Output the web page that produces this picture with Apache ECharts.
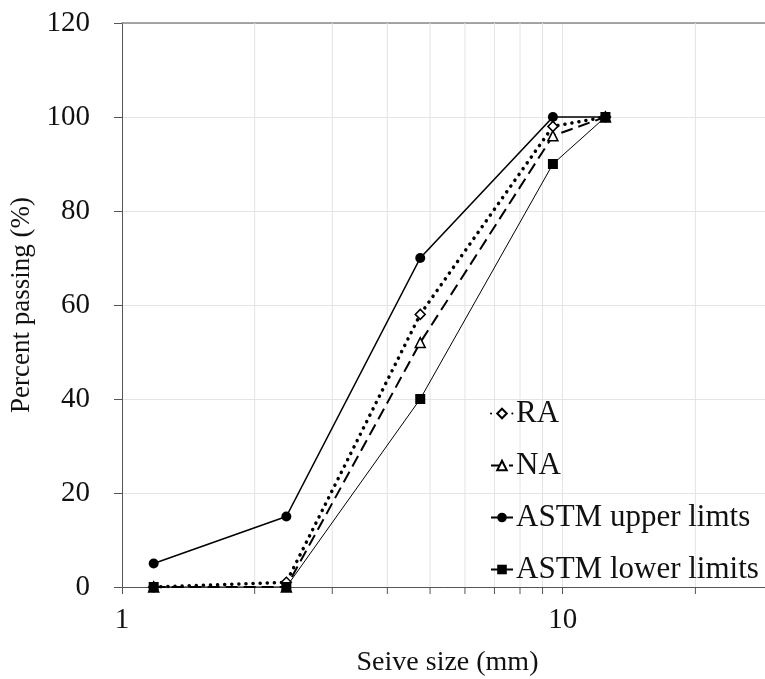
<!DOCTYPE html>
<html>
<head>
<meta charset="utf-8">
<script src="https://cdn.jsdelivr.net/npm/echarts@6/dist/echarts.min.js"></script>
<style>
html,body{margin:0;padding:0;background:#fff;}
#chart{width:765px;height:679px;}
</style>
</head>
<body>
<div id="chart"></div>
<script>
// Sieve sizes (mm)
var sieveSizes = [1.18, 2.36, 4.75, 9.5, 12.5];
// Percent passing
var raValues = [0, 1, 58, 98, 100];
var naValues = [0, 0, 52, 96, 100];
var astmUpper = [5, 15, 70, 100, 100];
var astmLower = [0, 0, 40, 90, 100];
var seriesNames = ['RA', 'NA', 'ASTM upper limts', 'ASTM lower limits'];
// Minor log ticks on x axis
var minorTicks = [2, 3, 4, 5, 6, 7, 8, 9, 20, 30];
var xMin = 1, xMax = 30;
var yMin = 0, yMax = 120, yStep = 20;

function pairs(vals) {
  return sieveSizes.map(function (x, i) { return [x, vals[i]]; });
}

var FONT = 'Liberation Serif';
var chart = echarts.init(document.getElementById('chart'), null, {renderer: 'canvas'});

var option = {
  animation: false,
  backgroundColor: '#fff',
  grid: {left: 122, top: 23, bottom: 92, right: -8, containLabel: false, outerBoundsMode: 'none'},
  legend: {
    data: seriesNames,
    orient: 'vertical',
    left: 485,
    top: 393,
    itemGap: 21,
    itemWidth: 22,
    itemHeight: 12,
    textStyle: {fontFamily: FONT, fontSize: 31, color: '#111', padding: [0, 0, 0, -2]}
  },
  xAxis: [{
    type: 'log',
    logBase: 10,
    min: xMin,
    max: xMax,
    name: 'Seive size (mm)',
    nameLocation: 'middle',
    nameGap: 62,
    nameTextStyle: {fontFamily: FONT, fontSize: 28, color: '#111'},
    axisLine: {lineStyle: {color: '#555', width: 1}},
    axisTick: {show: true, length: 7, lineStyle: {color: '#555'}},
    axisLabel: {fontFamily: FONT, fontSize: 29, color: '#111', margin: 19, showMaxLabel: false},
    splitLine: {show: true, lineStyle: {color: '#e4e4e4', width: 1}},
    minorTick: {show: false},
    minorSplitLine: {show: false}
  }, {
    type: 'log',
    logBase: 10,
    min: xMin,
    max: xMax,
    position: 'top',
    axisLine: {show: true, lineStyle: {color: '#8a8a8a', width: 1.5}},
    axisTick: {show: false},
    axisLabel: {show: false},
    splitLine: {show: false}
  }],
  yAxis: {
    type: 'value',
    min: yMin,
    max: yMax,
    interval: yStep,
    name: 'Percent passing (%)',
    nameLocation: 'middle',
    nameGap: 74,
    nameTextStyle: {fontFamily: FONT, fontSize: 27, color: '#111'},
    axisLine: {show: true, lineStyle: {color: '#555', width: 1}},
    axisTick: {show: true, length: 8, lineStyle: {color: '#555'}},
    axisLabel: {fontFamily: FONT, fontSize: 29, color: '#111', margin: 32},
    splitLine: {show: true, lineStyle: {color: '#e4e4e4', width: 1}}
  },
  series: [
    {
      type: 'custom',
      name: 'minor',
      xAxisIndex: 0,
      silent: true,
      z: 1,
      clip: false,
      data: minorTicks.map(function (v) { return [v, 0]; }),
      renderItem: function (params, api) {
        var v = api.value(0);
        var bot = api.coord([v, yMin]);
        var top = api.coord([v, yMax]);
        return {
          type: 'group',
          children: [
            {type: 'line', shape: {x1: bot[0], y1: bot[1], x2: top[0], y2: top[1]},
             style: {stroke: '#e4e4e4', lineWidth: 1}},
            {type: 'line', shape: {x1: bot[0], y1: bot[1], x2: bot[0], y2: bot[1] + 7},
             style: {stroke: '#555', lineWidth: 1}}
          ]
        };
      }
    },
    {
      name: seriesNames[0],
      type: 'line',
      z: 4,
      data: pairs(raValues),
      symbol: 'diamond',
      symbolSize: 10,
      itemStyle: {color: '#fff', borderColor: '#000', borderWidth: 1.5},
      lineStyle: {color: '#000', width: 3.5, type: [0.1, 7], cap: 'round'}
    },
    {
      name: seriesNames[1],
      type: 'line',
      z: 3,
      data: pairs(naValues),
      symbol: 'triangle',
      symbolSize: 10,
      itemStyle: {color: '#fff', borderColor: '#000', borderWidth: 1.5},
      lineStyle: {color: '#000', width: 2, type: [12, 6]}
    },
    {
      name: seriesNames[2],
      type: 'line',
      z: 5,
      data: pairs(astmUpper),
      symbol: 'circle',
      symbolSize: 10,
      itemStyle: {color: '#000'},
      lineStyle: {color: '#000', width: 1.6}
    },
    {
      name: seriesNames[3],
      type: 'line',
      z: 6,
      data: pairs(astmLower),
      symbol: 'rect',
      symbolSize: 10,
      itemStyle: {color: '#000'},
      lineStyle: {color: '#000', width: 1}
    }
  ]
};
chart.setOption(option);
</script>
</body>
</html>
